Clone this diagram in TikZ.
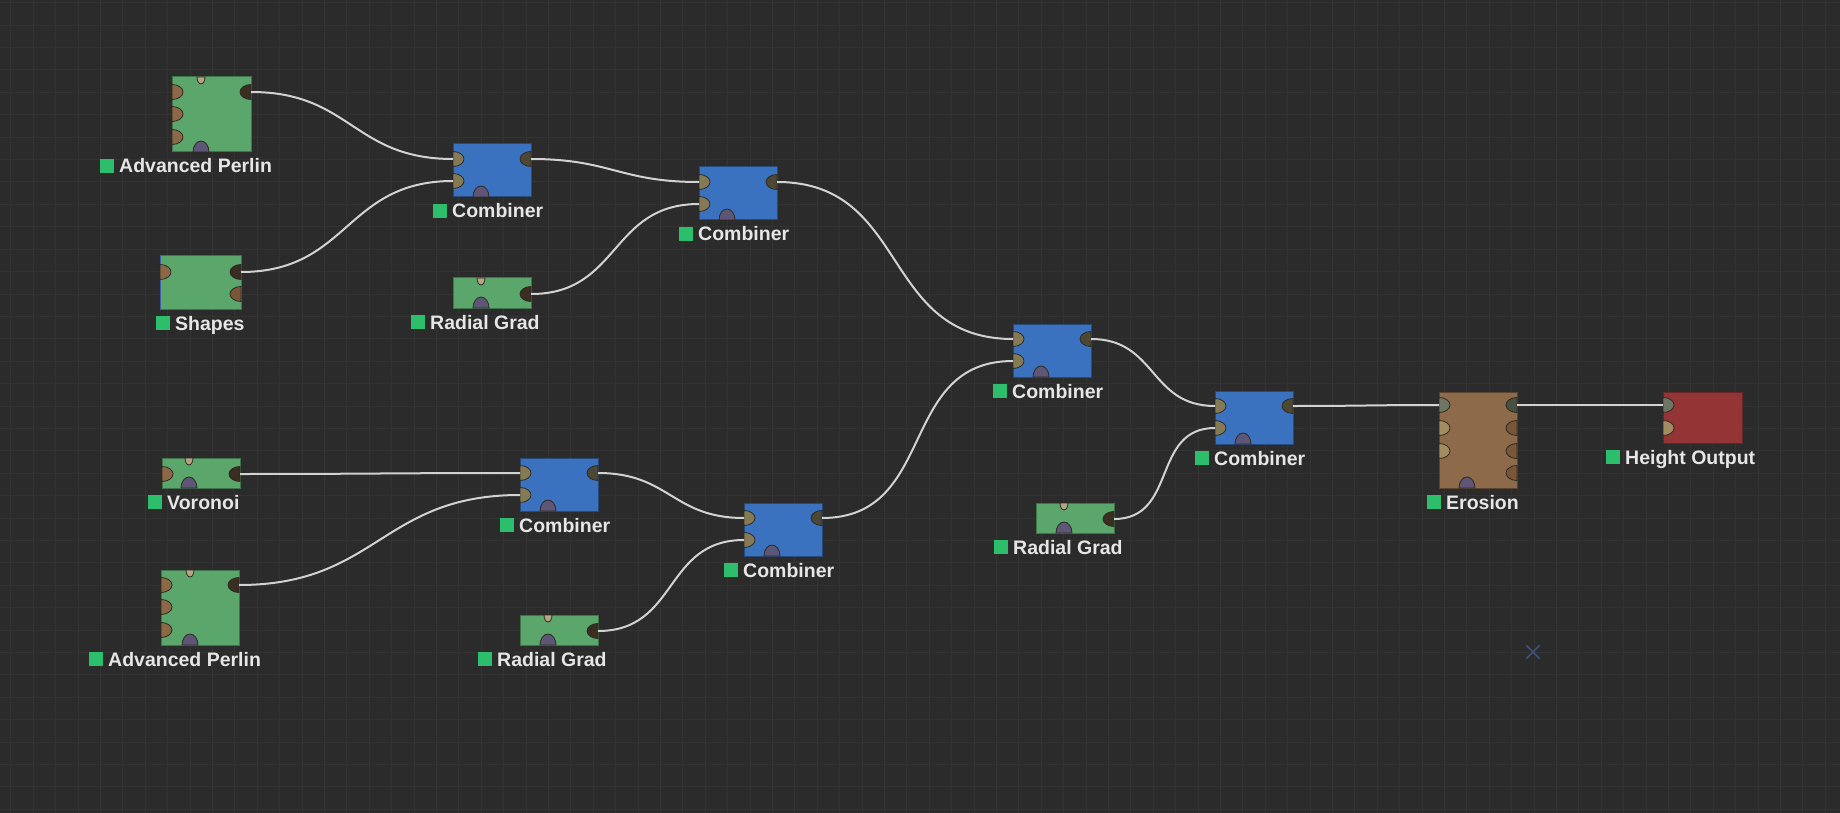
\documentclass[tikz,border=0pt]{standalone}
\usepackage{fontspec}
\setsansfont{Liberation Sans}
\usepackage{tikz}
\usetikzlibrary{positioning, calc, shapes.misc}

\definecolor{canvas}{HTML}{2B2B2B}
\definecolor{gridcol}{HTML}{333333}
\definecolor{gengreen}{HTML}{5BA66B}
\definecolor{combblue}{HTML}{3B72BF}
\definecolor{erobrown}{HTML}{8C6A4A}
\definecolor{outred}{HTML}{933535}
\definecolor{selblue}{HTML}{3D62A8}
\definecolor{tagsquare}{HTML}{2DBE6C}
\definecolor{tagtext}{HTML}{E6E6E6}
\definecolor{wirecol}{HTML}{D2D2D2}
\definecolor{portedge}{HTML}{2E2A24}
\definecolor{inbrown}{HTML}{8B6946}
\definecolor{intan}{HTML}{A38C62}
\definecolor{inlink}{HTML}{847A56}
\definecolor{ingrey}{HTML}{6E7562}
\definecolor{outdark}{HTML}{3A2D21}
\definecolor{outolive}{HTML}{4D4834}
\definecolor{outgrey}{HTML}{4B5142}
\definecolor{outbrown}{HTML}{7A5636}
\definecolor{porttop}{HTML}{B5A583}
\definecolor{portpurple}{HTML}{5E5676}
\definecolor{crossblue}{HTML}{3F5178}

% ports: half ellipses on the box edge
\newcommand{\inport}[2]{\filldraw[port, fill=#2] (#1) ++(0pt,-7.5pt) arc[start angle=-90, end angle=90, x radius=11pt, y radius=7.5pt] -- cycle;}
\newcommand{\outport}[2]{\filldraw[port, fill=#2] (#1) ++(0pt,7.5pt) arc[start angle=90, end angle=270, x radius=11pt, y radius=7.5pt] -- cycle;}
\newcommand{\topport}[1]{\filldraw[port, fill=porttop] (#1) ++(-4pt,0pt) arc[start angle=180, end angle=360, x radius=4pt, y radius=7pt] -- cycle;}
\newcommand{\botport}[1]{\filldraw[port, fill=portpurple] (#1) ++(-8pt,0pt) arc[start angle=180, end angle=0, x radius=8pt, y radius=11pt] -- cycle;}
\newcommand{\tagbox}{\textcolor{tagsquare}{\rule{14pt}{14pt}}\hspace{5pt}}

\begin{document}
\begin{tikzpicture}[x=1pt, y=-1pt,
    box/.style={rectangle, anchor=north west, inner sep=0pt, outer sep=0pt, line width=1pt, minimum width=78pt},
    gen/.style={box, fill=gengreen, draw=gengreen!70!black},
    grad/.style={gen, minimum height=30pt},
    perlin/.style={gen, minimum width=79pt, minimum height=75pt},
    comb/.style={box, fill=combblue, draw=combblue!65!black, minimum height=53pt},
    tag/.style={anchor=base west, inner sep=0pt, text=tagtext, font=\sffamily\bfseries\fontsize{19.5}{23}\selectfont},
    wire/.style={draw=wirecol, line width=2pt, out=0, in=180, looseness=1.2},
    port/.style={draw=portedge, line width=0.8pt},
    gridline/.style={draw=gridcol, line width=1pt}
]

% Canvas
\useasboundingbox (0,0) rectangle (1840,813);
\fill[canvas] (0,0) rectangle (1840,813);
\foreach \i in {0,...,81} \draw[gridline] (10.8+22.4*\i,0) -- (10.8+22.4*\i,813);
\foreach \j in {0,...,36} \draw[gridline] (0,2.8+22.4*\j) -- (1840,2.8+22.4*\j);

% Generators (left)
\node[perlin] (ap1) at (172,77) {};
\node[gen, minimum width=81pt, minimum height=53pt, draw=selblue] (shp) at (160,256) {};
\node[grad] (vor) at (162,458) {};
\node[perlin, minimum width=78pt] (ap2) at (161,570) {};

% Radial gradients
\node[grad] (rg1) at (453,278) {};
\node[grad] (rg2) at (520,615) {};
\node[grad] (rg3) at (1036,503) {};

% Combiners
\node[comb] (c1) at (453,144) {};
\node[comb] (c2) at (699,167) {};
\node[comb] (c3) at (1013,324) {};
\node[comb] (c4) at (1215,391) {};
\node[comb] (c5) at (520,458) {};
\node[comb] (c6) at (744,503) {};

% Erosion and output
\node[box, fill=erobrown, draw=erobrown!65!black, minimum height=96pt] (ero) at (1439,392) {};
\node[box, fill=outred, draw=outred!70!black, minimum width=79pt, minimum height=51pt] (hout) at (1663,392) {};

% Ports and tags
\foreach \n in {ap1,ap2} {
  \coordinate (\n-o1) at ([yshift=-15pt]\n.north east);
  \inport{[yshift=-15pt]\n.north west}{inbrown}
  \inport{[yshift=-37pt]\n.north west}{inbrown}
  \inport{[yshift=-60pt]\n.north west}{inbrown}
  \outport{\n-o1}{outdark}
  \topport{[xshift=29pt]\n.north west}
  \botport{[xshift=29pt]\n.south west}
  \node[tag] (\n-tag) at ([xshift=-72pt, yshift=-21pt]\n.south west) {\tagbox Advanced Perlin};
}
\foreach \n in {rg1,rg2,rg3} {
  \coordinate (\n-o1) at ([yshift=-16pt]\n.north east);
  \outport{\n-o1}{outdark}
  \topport{[xshift=28pt]\n.north west}
  \botport{[xshift=28pt]\n.south west}
  \node[tag] (\n-tag) at ([xshift=-42pt, yshift=-21pt]\n.south west) {\tagbox Radial Grad};
}
\foreach \n in {c1,c2,c3,c4,c5,c6} {
  \coordinate (\n-i1) at ([yshift=-15pt]\n.north west);
  \coordinate (\n-i2) at ([yshift=-37pt]\n.north west);
  \coordinate (\n-o1) at ([yshift=-15pt]\n.north east);
  \inport{\n-i1}{inlink}
  \inport{\n-i2}{inlink}
  \outport{\n-o1}{outolive}
  \botport{[xshift=28pt]\n.south west}
  \node[tag] (\n-tag) at ([xshift=-20pt, yshift=-21pt]\n.south west) {\tagbox Combiner};
}

\coordinate (shp-o1) at ([yshift=-16pt]shp.north east);
\inport{[yshift=-16pt]shp.north west}{inbrown}
\outport{shp-o1}{outdark}
\outport{[yshift=-38pt]shp.north east}{outbrown}
\node[tag] (shp-tag) at ([xshift=-4pt, yshift=-21pt]shp.south west) {\tagbox Shapes};

\coordinate (vor-o1) at ([yshift=-16pt]vor.north east);
\inport{[yshift=-16pt]vor.north west}{inbrown}
\outport{vor-o1}{outdark}
\topport{[xshift=27pt]vor.north west}
\botport{[xshift=27pt]vor.south west}
\node[tag] (vor-tag) at ([xshift=-14pt, yshift=-21pt]vor.south west) {\tagbox Voronoi};

\coordinate (ero-i1) at ([yshift=-13pt]ero.north west);
\coordinate (ero-o1) at ([yshift=-13pt]ero.north east);
\inport{ero-i1}{ingrey}
\inport{[yshift=-36pt]ero.north west}{intan}
\inport{[yshift=-59pt]ero.north west}{intan}
\outport{ero-o1}{outgrey}
\outport{[yshift=-36pt]ero.north east}{outbrown}
\outport{[yshift=-59pt]ero.north east}{outbrown}
\outport{[yshift=-81pt]ero.north east}{outbrown}
\botport{[xshift=28pt]ero.south west}
\node[tag] (ero-tag) at ([xshift=-12pt, yshift=-21pt]ero.south west) {\tagbox Erosion};

\coordinate (hout-i1) at ([yshift=-13pt]hout.north west);
\inport{hout-i1}{ingrey}
\inport{[yshift=-36pt]hout.north west}{intan}
\node[tag] (hout-tag) at ([xshift=-57pt, yshift=-21pt]hout.south west) {\tagbox Height Output};

% Wires
\draw[wire] (ap1-o1) to (c1-i1);
\draw[wire] (shp-o1) to (c1-i2);
\draw[wire] (c1-o1) to (c2-i1);
\draw[wire] (rg1-o1) to (c2-i2);
\draw[wire] (c2-o1) to (c3-i1);
\draw[wire] (vor-o1) to (c5-i1);
\draw[wire] (ap2-o1) to (c5-i2);
\draw[wire] (c5-o1) to (c6-i1);
\draw[wire] (rg2-o1) to (c6-i2);
\draw[wire] (c6-o1) to (c3-i2);
\draw[wire] (c3-o1) to (c4-i1);
\draw[wire] (rg3-o1) to (c4-i2);
\draw[wire] (c4-o1) to (ero-i1);
\draw[wire] (ero-o1) to (hout-i1);

% Cursor mark
\node[draw=crossblue, cross out, line width=1.5pt, minimum size=12pt, inner sep=0pt] (mark) at (1533,652) {};

\end{tikzpicture}
\end{document}
